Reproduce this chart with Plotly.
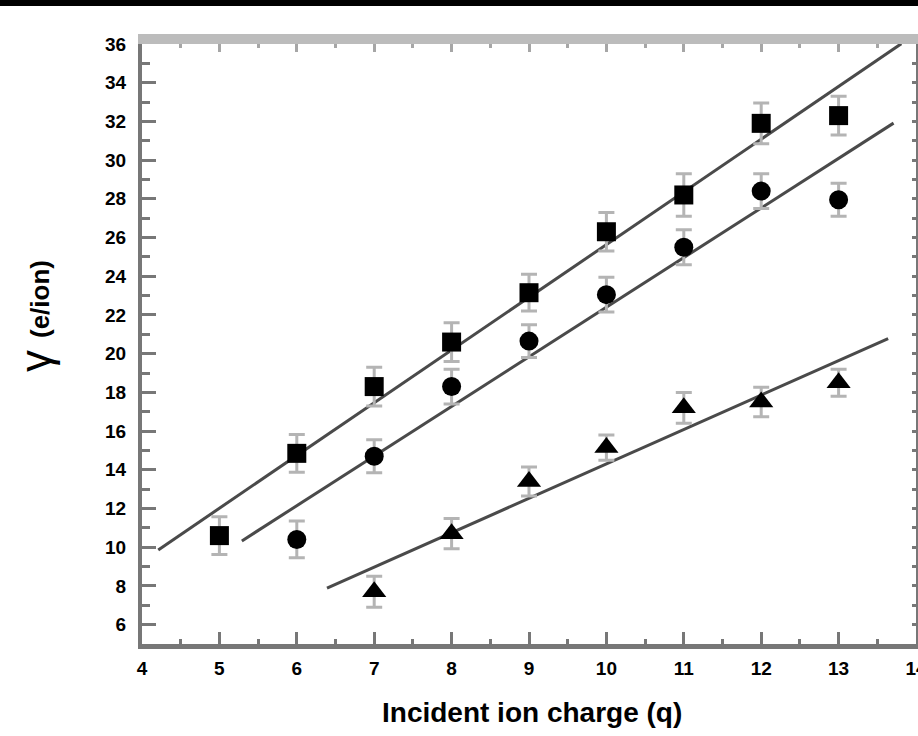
import numpy as np
import plotly.graph_objects as go

# Secondary electron yield versus incident ion charge state
charge_sq = [5, 6, 7, 8, 9, 10, 11, 12, 13]
yield_sq = [10.6, 14.85, 18.3, 20.6, 23.15, 26.3, 28.2, 31.9, 32.3]
err_sq = [0.98, 0.97, 1.0, 1.0, 0.95, 1.0, 1.1, 1.05, 1.0]

charge_ci = [6, 7, 8, 9, 10, 11, 12, 13]
yield_ci = [10.4, 14.7, 18.3, 20.65, 23.05, 25.5, 28.4, 27.95]
err_ci = [0.95, 0.85, 0.9, 0.85, 0.9, 0.9, 0.9, 0.85]

charge_tr = [7, 8, 9, 10, 11, 12, 13]
yield_tr = [7.7, 10.7, 13.4, 15.15, 17.2, 17.5, 18.5]
err_tr = [0.8, 0.78, 0.75, 0.65, 0.8, 0.76, 0.7]

# x-extent of each straight-line fit
fit_start = [4.21, 5.29, 6.39]
fit_end = [13.81, 13.71, 13.64]

x_range = [4, 14]
y_range = [5, 36]

W, H = 918, 736
ML, MR, MT, MB = 142, 2, 44, 92
pw = W - ML - MR
ph = H - MT - MB

series = [
    (charge_sq, yield_sq, err_sq, "square", 19),
    (charge_ci, yield_ci, err_ci, "circle", 19),
    (charge_tr, yield_tr, err_tr, "triangle-up", 21),
]

fig = go.Figure()

# least-squares lines
for (cx, cy, ce, sym, sz), x0, x1 in zip(series, fit_start, fit_end):
    slope, icpt = np.polyfit(cx, cy, 1)
    xs = np.array([x0, x1])
    fig.add_trace(go.Scatter(
        x=xs, y=slope * xs + icpt, mode="lines",
        line=dict(color="#4a4a4a", width=3), showlegend=False, hoverinfo="skip",
    ))

# data points with error bars
for cx, cy, ce, sym, sz in series:
    fig.add_trace(go.Scatter(
        x=cx, y=cy, mode="markers",
        marker=dict(symbol=sym, size=sz, color="black", line=dict(width=0)),
        error_y=dict(type="data", array=ce, visible=True,
                     color="#b4b4b4", thickness=3, width=8),
        showlegend=False,
    ))

# invisible trace so the top / right frame axes are drawn
fig.add_trace(go.Scatter(x=[None], y=[None], xaxis="x2", yaxis="y2",
                         showlegend=False, hoverinfo="skip"))

tickfont = dict(family="Liberation Sans", size=19, color="black", weight="bold")

fig.update_layout(
    width=W, height=H,
    margin=dict(l=ML, r=MR, t=MT, b=MB, autoexpand=False),
    paper_bgcolor="white", plot_bgcolor="white",
    font=dict(family="Liberation Sans", color="black"),
    xaxis=dict(
        range=x_range, tickmode="linear", tick0=4, dtick=1,
        ticks="inside", ticklen=12, tickwidth=3, tickcolor="#777777",
        minor=dict(ticks="inside", ticklen=5, tickwidth=3, tickcolor="#777777", dtick=0.5),
        showline=True, linecolor="#777777", linewidth=5,
        showgrid=False, zeroline=False, tickfont=tickfont,
        ticklabelstandoff=3, ticklabeloverflow="allow", automargin=False,
    ),
    yaxis=dict(
        range=y_range, tickmode="linear", tick0=0, dtick=2,
        ticks="inside", ticklen=14, tickwidth=3, tickcolor="#777777",
        minor=dict(ticks="inside", ticklen=8, tickwidth=3, tickcolor="#777777", dtick=1),
        showline=True, linecolor="#777777", linewidth=4,
        showgrid=False, zeroline=False, tickfont=tickfont,
        ticklabelstandoff=8, automargin=False,
    ),
    xaxis2=dict(
        range=x_range, overlaying="x", side="top", anchor="y",
        tickmode="linear", tick0=4, dtick=1,
        ticks="inside", ticklen=8, tickwidth=3, tickcolor="#a6a6a6",
        minor=dict(ticks="inside", ticklen=4, tickwidth=3, tickcolor="#a6a6a6", dtick=0.5),
        showline=True, linecolor="#bcbcbc", linewidth=10,
        showticklabels=False, showgrid=False, zeroline=False, automargin=False,
    ),
    yaxis2=dict(
        range=y_range, overlaying="y", side="right", anchor="x",
        tickmode="linear", tick0=0, dtick=1,
        ticks="inside", ticklen=4, tickwidth=3, tickcolor="#777777",
        showline=True, linecolor="#777777", linewidth=4,
        showticklabels=False, showgrid=False, zeroline=False, automargin=False,
    ),
    shapes=[
        # black strip along the top edge of the page
        dict(type="rect", xref="paper", yref="paper",
             x0=-ML / pw, x1=(W - ML) / pw,
             y0=1 + (MT - 6) / ph, y1=1 + (MT + 2) / ph,
             fillcolor="black", line=dict(width=0), layer="above"),
    ],
    annotations=[
        dict(text="Incident ion charge (q)", xref="paper", yref="paper",
             x=(531.7 - ML) / pw, y=-(712 - (H - MB)) / ph,
             xanchor="center", yanchor="middle", showarrow=False,
             font=dict(family="Liberation Sans", size=28, color="black", weight="bold")),
        dict(text="γ", xref="paper", yref="paper",
             x=(35 - ML) / pw, y=((H - MB) - 361) / ph,
             xanchor="center", yanchor="middle", showarrow=False, textangle=-90,
             font=dict(family="Liberation Sans", size=44, color="black")),
        dict(text="(e/ion)", xref="paper", yref="paper",
             x=(40 - ML) / pw, y=((H - MB) - 299) / ph,
             xanchor="center", yanchor="middle", showarrow=False, textangle=-90,
             font=dict(family="Liberation Sans", size=26, color="black", weight="bold")),
    ],
)

fig.write_html("out.html")
